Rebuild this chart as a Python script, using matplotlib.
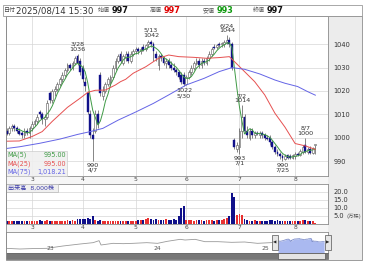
import numpy as np
import pandas as pd
import matplotlib
matplotlib.use("Agg")
import matplotlib.pyplot as plt
from matplotlib.patches import Rectangle
import matplotlib.transforms as mtransforms

plt.rcParams['font.family'] = ['DejaVu Sans', 'Noto Sans CJK JP']

W, H = 370, 266

# daily candles, 2025-02-14 .. 2025-08-14 (trading days)
opens = [1003, 1002, 1004, 1005, 1004, 1003, 1002, 1001, 1003, 1002,
         1004, 1006, 1007, 1011, 1010, 1008, 1009, 1019, 1016, 1020,
         1021, 1023, 1025, 1027, 1029, 1031, 1030, 1032, 1035, 1033,
         1030, 1024, 1019, 1010, 1001, 1003, 1010, 1027, 1018, 1020,
         1023, 1024, 1026, 1030, 1033, 1036, 1032, 1034, 1036, 1033, 1036,
         1037, 1038, 1037, 1039, 1038, 1040, 1041, 1040, 1036, 1031,
         1035, 1034, 1032, 1033, 1031, 1030, 1029, 1028, 1027, 1027,
         1023, 1026, 1028, 1030, 1032, 1033, 1031, 1033, 1032, 1034,
         1036, 1039, 1039, 1040, 1040, 1040, 1041, 1042, 1040, 999,
         995, 996, 1003, 1009, 1003, 1000, 1003, 1001, 1002, 1001,
         1002, 1001, 1000, 1000, 998, 996, 994, 993, 992, 991,
         992.5, 992, 991.5, 992, 993, 992.5, 994, 997, 994, 995, 993.5, 997]
highs = [1004, 1005, 1006, 1006, 1005, 1004, 1003, 1004, 1004, 1005,
         1007, 1008, 1010, 1012, 1011, 1010, 1016, 1020, 1021, 1022,
         1024, 1026, 1028, 1030, 1032, 1032, 1033, 1035, 1036, 1034,
         1031, 1026, 1020, 1012, 1004, 1012, 1012, 1028, 1022, 1024,
         1026, 1027, 1031, 1034, 1036, 1037, 1036, 1037, 1037, 1037, 1038,
         1039, 1039, 1039, 1040, 1040, 1042, 1042, 1041, 1037, 1036,
         1036, 1035, 1034, 1034, 1033, 1032, 1030, 1029, 1028, 1028,
         1027, 1029, 1031, 1033, 1034, 1034, 1034, 1034, 1035, 1037,
         1039, 1040, 1040, 1041, 1041, 1042, 1044, 1043, 1041, 1000,
         998, 1004, 1014, 1010, 1005, 1004, 1004, 1003, 1003, 1003,
         1003, 1002, 1001, 1001, 999, 997, 995, 994, 993, 993,
         993, 993, 993, 994, 994, 995, 997, 1000, 996, 996.5, 996, 997]
lows = [1001, 1001, 1003, 1003, 1002, 1001, 1000, 1000, 1001, 1000,
        1003, 1005, 1006, 1009, 1006, 1005, 1008, 1015, 1015, 1018,
        1020, 1022, 1024, 1026, 1028, 1029, 1029, 1031, 1031, 1027,
        1024, 1020, 1010, 1000, 990, 1002, 1004, 1018, 1016, 1019,
        1022, 1022, 1025, 1029, 1032, 1032, 1031, 1033, 1032, 1032, 1035,
        1036, 1036, 1036, 1037, 1037, 1039, 1039, 1033, 1033, 1029,
        1033, 1031, 1030, 1030, 1029, 1028, 1027, 1025, 1023, 1022,
        1022.5, 1025, 1027, 1029, 1031, 1030, 1030, 1031, 1031, 1033,
        1035, 1038, 1038, 1039, 1039, 1039, 1040, 1039, 1029, 995,
        994, 993, 1000, 1002, 1000, 999, 1000, 1000, 1001, 1000,
        1000, 999, 999, 997, 995, 993, 992, 991, 990, 990.5,
        991, 991, 991, 991, 992, 992, 993, 993.5, 993, 993, 993, 993]
closes = [1001.5, 1004, 1005, 1004, 1003, 1001.5, 1001, 1003, 1002, 1004,
          1006, 1007, 1009, 1010, 1008, 1009, 1015, 1016, 1020, 1021,
          1023, 1025, 1027, 1029, 1031, 1030, 1032, 1034, 1032, 1028,
          1025, 1022, 1011, 1001, 999.5, 1010, 1006, 1019, 1020, 1023,
          1025, 1026, 1030, 1033, 1035, 1033, 1035, 1036, 1033, 1036, 1037,
          1038, 1037, 1038, 1037.5, 1039.5, 1041, 1040, 1037, 1034, 1035,
          1034, 1032, 1033, 1031, 1030, 1029, 1028, 1026, 1024, 1023,
          1026, 1028, 1030, 1032, 1033, 1031, 1033, 1032, 1034, 1036,
          1038, 1038.5, 1039.5, 1039.5, 1040.5, 1041, 1042, 1040, 1030, 996,
          997, 1003, 1009, 1003, 1001, 1003, 1001, 1002, 1001.5, 1002,
          1001, 1000, 999.5, 998, 996, 994, 993, 992, 991.5, 992,
          991.5, 991.5, 992.5, 993, 992.5, 994.5, 996, 994, 995, 993.5, 995.5, 997]
# volume in 10,000 shares
volumes = [1.8, 2.0, 1.6, 1.9, 1.7, 2.0, 1.8, 1.6, 2.1, 1.9,
           2.0, 1.7, 1.9, 2.2, 1.6, 1.8, 2.4, 1.8, 2.0, 1.7,
           1.9, 2.1, 1.8, 2.0, 2.2, 1.9, 2.3, 2.0, 3.0, 3.2,
           3.4, 3.0, 3.6, 3.1, 5.2, 2.2, 1.9, 2.4, 2.0, 1.8,
           1.7, 1.9, 1.6, 1.8, 1.7, 1.9, 1.6, 1.8, 2.0, 1.7, 1.9,
           2.0, 2.4, 2.2, 2.6, 3.2, 3.6, 3.4, 2.6, 3.0, 2.4,
           2.6, 2.8, 3.2, 2.4, 2.8, 3.0, 2.6, 5.0, 10.3, 11.2,
           2.8, 2.4, 2.2, 2.0, 2.6, 2.2, 2.4, 2.0, 2.2, 2.6,
           2.4, 2.0, 2.2, 2.8, 2.6, 3.4, 4.0, 5.0, 19.4, 17.0,
           5.4, 6.0, 5.6, 3.0, 2.4, 2.0, 1.8, 2.2, 1.9, 1.7,
           2.0, 1.8, 1.6, 2.2, 2.4, 2.0, 2.2, 1.8, 2.0, 1.6,
           1.8, 1.7, 2.0, 1.8, 1.6, 2.0, 2.2, 2.4, 1.9, 2.1, 1.8, 0.8]

# moving averages (day index, value)
ma25_idx = [0, 5, 10, 14, 18, 21, 24, 29, 32, 35, 39, 43, 45, 47, 50, 55, 60, 64, 68,
            74, 79, 84, 88, 90, 94, 98, 102, 106, 110, 114, 118, 122]
ma25_val = [998.5, 998.6, 1000.5, 1002.6, 1007.0, 1010.0, 1013.0, 1016.9, 1019.4, 1020.3,
            1020.4, 1022.6, 1024.0, 1025.0, 1027.6, 1030.4, 1034.0, 1035.4, 1034.7,
            1034.4, 1034.0, 1034.3, 1034.7, 1032.6, 1028.3, 1024.0, 1018.3, 1010.5,
            1004.5, 997.5, 996.5, 995.0]
ma75_idx = [0, 5, 13, 21, 28, 33, 38, 44, 51, 58, 64, 71, 78, 84, 89, 94, 100, 106,
            110, 115, 119, 122]
ma75_val = [995.4, 996.1, 997.6, 999.4, 1001.4, 1002.6, 1004.0, 1007.5, 1011.0, 1014.7,
            1018.3, 1022.6, 1025.4, 1028.3, 1030.0, 1029.3, 1027.3, 1024.7, 1023.3,
            1021.9, 1019.7, 1018.2]

month_idx = [10, 30, 51, 71, 92, 114]
month_labels = ['3', '4', '5', '6', '7', '8']
price_ticks = [990, 1000, 1010, 1020, 1030, 1040]
vol_ticks = [5, 10, 15, 20]

# marked highs / lows: (day index, date text, above?)
marks = [(28, '3/28', True), (34, '4/7', False), (57, '5/13', True), (70, '5/30', False),
         (87, '6/24', True), (92, '7/1', False), (93, '7/2', True), (109, '7/25', False),
         (118, '8/7', True)]

header_labels = ['始値', '高値', '安値', '終値']
header_values = ['997', '997', '993', '997']
ma_names = ['MA(5)', 'MA(25)', 'MA(75)']
ma_last = ['995.00', '995.00', '1,018.21']

# long-term navigator line (year, level)
nav_years = [2022.59, 2022.72, 2022.85, 2022.97, 2023.12, 2023.28, 2023.40, 2023.456,
             2023.474, 2023.586, 2023.68, 2023.77, 2023.90, 2024.0, 2024.09, 2024.21,
             2024.256, 2024.35, 2024.44, 2024.56, 2024.69, 2024.81, 2024.93, 2025.05, 2025.10]
nav_vals = [895, 885, 892, 895, 930, 960, 980, 1010, 945, 970, 965, 970, 980, 970, 1000,
            1030, 1020, 1030, 995, 995, 985, 990, 970, 980, 987]

C_UP_VOL = '#e83030'
C_DN = '#10108a'
C_MA = ['#3f9a45', '#e65050', '#6464e6']

fig = plt.figure(figsize=(W / 100, H / 100), dpi=100)


def fx(x):
    return x / W


def fy(y):
    return 1 - y / H


def box(x0, y0, x1, y1, **kw):
    r = Rectangle((fx(x0), fy(y1)), (x1 - x0) / W, (y1 - y0) / H,
                  transform=fig.transFigure, **kw)
    fig.add_artist(r)
    return r


# right column / frames
box(328, 16, 362, 260, facecolor='#ececec', edgecolor='none', zorder=-5)
box(6, 176, 328, 184, facecolor='#f6f6f6', edgecolor='none', zorder=-5)
box(6, 224, 328, 232, facecolor='#f6f6f6', edgecolor='none', zorder=-5)

n = len(closes)
idx = np.arange(n)
o = np.array(opens, float)
c = np.array(closes, float)
up = c >= o

ax = fig.add_axes([fx(6), fy(176), 322 / W, 160 / H])
ax.set_xlim(-0.3, 127)
ax.set_ylim(983.6, 1052.1)
ax.set_yticks(price_ticks)
ax.set_xticks(month_idx)
ax.set_xticklabels(month_labels)
ax.yaxis.tick_right()
ax.tick_params(axis='y', length=0, pad=4, labelsize=4.8, labelcolor='#333333')
ax.tick_params(axis='x', length=0, pad=0.6, labelsize=4.3, labelcolor='#444444')
ax.grid(color='#d6d6d6', lw=0.5)
ax.set_axisbelow(True)
for s in ax.spines.values():
    s.set_color('#8c8c8c')
    s.set_linewidth(0.6)

# candles
ax.vlines(idx, lows, highs, color='#555555', lw=0.5, zorder=2)
body_lo = np.minimum(o, c)
body_h = np.maximum(np.abs(c - o), 0.3)
ax.bar(idx[up], body_h[up], bottom=body_lo[up], width=0.72, color='white',
       edgecolor='#555555', linewidth=0.4, zorder=3)
ax.bar(idx[~up], body_h[~up], bottom=body_lo[~up], width=0.72, color=C_DN,
       edgecolor=C_DN, linewidth=0.3, zorder=3)

# moving averages
ma5 = pd.Series(closes).rolling(5).mean()
ax.plot(idx, ma5, color=C_MA[0], lw=0.7, zorder=4)
ax.plot(ma25_idx, ma25_val, color=C_MA[1], lw=0.7, zorder=4)
ax.plot(ma75_idx, ma75_val, color=C_MA[2], lw=0.7, zorder=4)

for i, date, above in marks:
    if above:
        ax.annotate(f"{date}\n{highs[i]:g}", (i, highs[i]), xytext=(0, 1.5),
                    textcoords='offset points', ha='center', va='bottom',
                    fontsize=4.6, color='#333333', linespacing=0.95, zorder=5)
    else:
        ax.annotate(f"{lows[i]:g}\n{date}", (i, lows[i]), xytext=(0, -1.5),
                    textcoords='offset points', ha='center', va='top',
                    fontsize=4.6, color='#333333', linespacing=0.95, zorder=5)

# MA legend box
box(6, 151, 67, 176, facecolor='#f0f0f0', edgecolor='#c8c8c8', lw=0.5, alpha=0.9, zorder=6)
for k, (name, val) in enumerate(zip(ma_names, ma_last)):
    yy = 155 + k * 8.5
    fig.text(fx(7.5), fy(yy), name, fontsize=4.7, color=C_MA[k], va='center', zorder=7)
    fig.text(fx(66), fy(yy), val, fontsize=4.7, color=C_MA[k], va='center', ha='right', zorder=7)

# volume panel
axv = fig.add_axes([fx(6), fy(224), 322 / W, 40 / H])
axv.set_xlim(-0.3, 127)
axv.set_ylim(0, 25)
vol_colors = [C_UP_VOL if u else C_DN for u in up]
axv.bar(idx, volumes, width=0.72, color=vol_colors, linewidth=0, zorder=3)
axv.set_yticks(vol_ticks)
axv.set_yticklabels([f"{v:.1f}" for v in vol_ticks])
axv.set_xticks(month_idx)
axv.set_xticklabels(month_labels)
axv.yaxis.tick_right()
axv.tick_params(axis='y', length=0, pad=4, labelsize=4.8, labelcolor='#333333')
axv.tick_params(axis='x', length=0, pad=0.6, labelsize=4.3, labelcolor='#444444')
axv.grid(color='#d6d6d6', lw=0.5)
axv.set_axisbelow(True)
for s in axv.spines.values():
    s.set_color('#8c8c8c')
    s.set_linewidth(0.6)
fig.text(fx(354), fy(216.5), '(万株)', fontsize=3.8, color='#555555', ha='center', va='center')
box(6, 184, 58, 191.5, facecolor='#f0f0f0', edgecolor='#b8b8b8', lw=0.5, zorder=6)
fig.text(fx(7.5), fy(187.8), '出来高  8,000株', fontsize=4.4, color='#3a3aa8', va='center', zorder=7)

# navigator
axn = fig.add_axes([fx(6), fy(253), 322 / W, 21 / H])
axn.set_xlim(2022.59, 2025.586)
axn.set_ylim(825, 1140)
axn.set_xticks([])
axn.set_yticks([])
for s in axn.spines.values():
    s.set_color('#8c8c8c')
    s.set_linewidth(0.6)
axn.plot(nav_years, nav_vals, color='#9a9a9a', lw=0.6)
sel_x = np.linspace(2025.12, 2025.55, n)
axn.fill_between(sel_x, closes, 825, color='#aab9f0', lw=0)
axn.plot(sel_x, closes, color='#8090cc', lw=0.6)
trans = mtransforms.blended_transform_factory(axn.transData, axn.transAxes)
for yr, lab in zip([2023, 2024, 2025], ['23', '24', '25']):
    axn.text(yr, 0.2, lab, transform=trans, fontsize=4.3, color='#555555',
             ha='center', va='center')

# selection handles
for hx, glyph in [(275, '◀'), (328, '▶')]:
    box(hx - 3.2, 235, hx + 3.2, 250, facecolor='#e6e6e6', edgecolor='#555555', lw=0.5, zorder=8)
    fig.text(fx(hx), fy(242.5), glyph, fontsize=3.2, color='#222222', ha='center',
             va='center', zorder=9)

# scrollbar
box(6, 253, 328, 258.5, facecolor='#777777', edgecolor='#555555', lw=0.4, zorder=3)
box(278, 253, 325, 258.5, facecolor='#e4e4e4', edgecolor='#555555', lw=0.5, zorder=4)

# outer frames
box(6, 16, 362, 260, fill=False, edgecolor='#8c8c8c', lw=0.6, zorder=10)
box(2.7, 5, 362, 16, fill=False, edgecolor='#9a9a9a', lw=0.6, zorder=10)

# header
hy = fy(10.5)
fig.text(fx(3.8), hy, '日付', fontsize=4.3, color='#444444', va='center')
fig.text(fx(15.5), hy, '2025/08/14 15:30', fontsize=6.2, color='#333333', va='center')
header_x = [98, 150, 203, 253]
header_colors = ['#111111', '#e00000', '#109a10', '#111111']
for lab, val, xx, col in zip(header_labels, header_values, header_x, header_colors):
    fig.text(fx(xx), hy, lab, fontsize=4.3, color='#555555', va='center')
    fig.text(fx(xx + 13.5), hy, val, fontsize=5.9, color=col, va='center', weight='bold')

fig.savefig('out.png', dpi=100)
